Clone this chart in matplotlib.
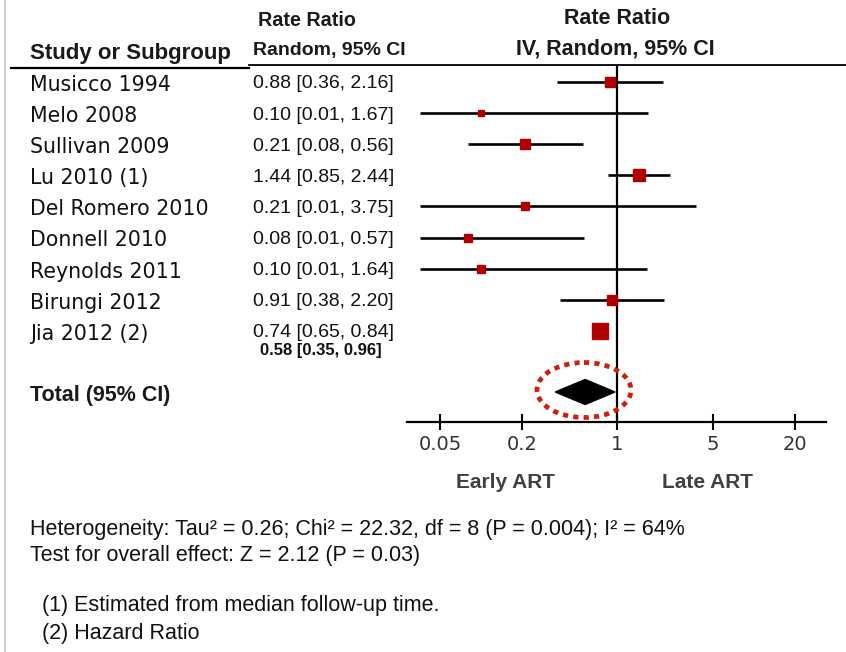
import numpy as np
import matplotlib
matplotlib.use("Agg")
import matplotlib.pyplot as plt
from matplotlib.patches import Ellipse

# study data (rate ratios, 95% CI)
studies = ["Musicco 1994", "Melo 2008", "Sullivan 2009", "Lu 2010 (1)",
           "Del Romero 2010", "Donnell 2010", "Reynolds 2011",
           "Birungi 2012", "Jia 2012 (2)"]
rr = [0.88, 0.10, 0.21, 1.44, 0.21, 0.08, 0.10, 0.91, 0.74]
ci_low = [0.36, 0.01, 0.08, 0.85, 0.01, 0.01, 0.01, 0.38, 0.65]
ci_high = [2.16, 1.67, 0.56, 2.44, 3.75, 0.57, 1.64, 2.20, 0.84]
# approximate study weights (%), from box sizes
weights = [9.6, 5.0, 11.9, 17.2, 5.8, 5.8, 5.8, 11.9, 27.0]

total_rr = 0.58
total_low = 0.35
total_high = 0.96

tick_vals = [0.05, 0.2, 1, 5, 20]
tick_labels = ["0.05", "0.2", "1", "5", "20"]

heterogeneity = "Heterogeneity: Tau\u00b2 = 0.26; Chi\u00b2 = 22.32, df = 8 (P = 0.004); I\u00b2 = 64%"
overall = "Test for overall effect: Z = 2.12 (P = 0.03)"
footnotes = ["(1) Estimated from median follow-up time.", "(2) Hazard Ratio"]

W, H = 846, 652
fig = plt.figure(figsize=(W / 100, H / 100), dpi=100)
fig.patch.set_facecolor("white")

# forest panel, placed in pixel units of the figure
x0, x1, y_top, y_axis = 407, 826, 65, 422
ax = fig.add_axes([x0 / W, 1 - y_axis / H, (x1 - x0) / W, (y_axis - y_top) / H])
ax.set_xscale("log")
ax.set_xlim(0.0287, 33.7)
ax.set_ylim(y_axis, y_top)
ax.patch.set_alpha(0)
for s in ["top", "left", "right"]:
    ax.spines[s].set_visible(False)
ax.spines["bottom"].set_linewidth(1.6)
ax.set_xticks(tick_vals)
ax.set_xticklabels(tick_labels)
ax.minorticks_off()
ax.tick_params(axis="x", direction="inout", length=12, width=1.5, pad=3,
               labelsize=14, labelcolor="#333333")
ax.set_yticks([])
ax.axvline(1, color="black", lw=1.6, zorder=1)

row_y = 82 + 31.1 * np.arange(len(studies))
clip_lo = 0.036
for i in range(len(studies)):
    ax.plot([max(ci_low[i], clip_lo), ci_high[i]], [row_y[i], row_y[i]],
            color="black", lw=1.9, solid_capstyle="butt", zorder=2)
    ax.plot(rr[i], row_y[i], marker="s", ls="none", color="#b00000",
            ms=3.0 * np.sqrt(weights[i]) * 0.72, mec="#b00000", zorder=3)

# pooled diamond
y_tot = 392
ax.fill([total_low, total_rr, total_high, total_rr],
        [y_tot, y_tot - 12.5, y_tot, y_tot + 12.5], color="black", zorder=3)

# overlay for table text, in pixel coordinates
bg = fig.add_axes([0, 0, 1, 1])
bg.set_xlim(0, W)
bg.set_ylim(H, 0)
bg.axis("off")
bg.patch.set_alpha(0)

bg.plot([5, 5], [0, H], color="#d0d0d0", lw=1.5)
bg.plot([11, 249], [68, 68], color="black", lw=1.6)
bg.plot([249, W], [65, 65], color="black", lw=1.3)

hdr = dict(family="Liberation Sans", weight="bold", color="#1a1a1a")
bg.text(30, 53, "Study or Subgroup", fontsize=16, va="center", **hdr)
bg.text(258, 21, "Rate Ratio", fontsize=14.2, va="center", **hdr)
bg.text(253, 51, "Random, 95% CI", fontsize=14, va="center", **hdr)
bg.text(617, 19, "Rate Ratio", fontsize=15.5, va="center", ha="center", **hdr)
bg.text(615, 49, "IV, Random, 95% CI", fontsize=15.5, va="center", ha="center", **hdr)

for i, name in enumerate(studies):
    bg.text(30, row_y[i] + 3, name, fontsize=14.8, family="DejaVu Sans",
            color="#111111", va="center")
    bg.text(253, row_y[i] + 2, f"{rr[i]:.2f} [{ci_low[i]:.2f}, {ci_high[i]:.2f}]",
            fontsize=14, family="Liberation Sans", color="#111111", va="center")

bg.text(260, 351, f"{total_rr:.2f} [{total_low:.2f}, {total_high:.2f}]",
        fontsize=12, family="Liberation Sans", weight="bold", color="#111111", va="center")
bg.text(30, 396, "Total (95% CI)", fontsize=15.5, va="center", **hdr)

lab = dict(family="Liberation Sans", weight="bold", color="#404040",
           fontsize=15, va="center", ha="center")
bg.text(505, 483, "Early ART", **lab)
bg.text(708, 483, "Late ART", **lab)

ft = dict(family="Liberation Sans", fontsize=15.5, color="#111111", va="center")
bg.text(30, 530, heterogeneity, **ft)
bg.text(30, 556, overall, **ft)
bg.text(42, 606, footnotes[0], **ft)
bg.text(42, 634, footnotes[1], **ft)

# dotted highlight round the pooled estimate
bg.add_patch(Ellipse((584, 390), 94, 55, fill=False, edgecolor="#cc1f0f",
                     lw=3.4, linestyle=(0, (1.1, 1.1)), capstyle="butt"))

fig.savefig("out.png", dpi=100)
